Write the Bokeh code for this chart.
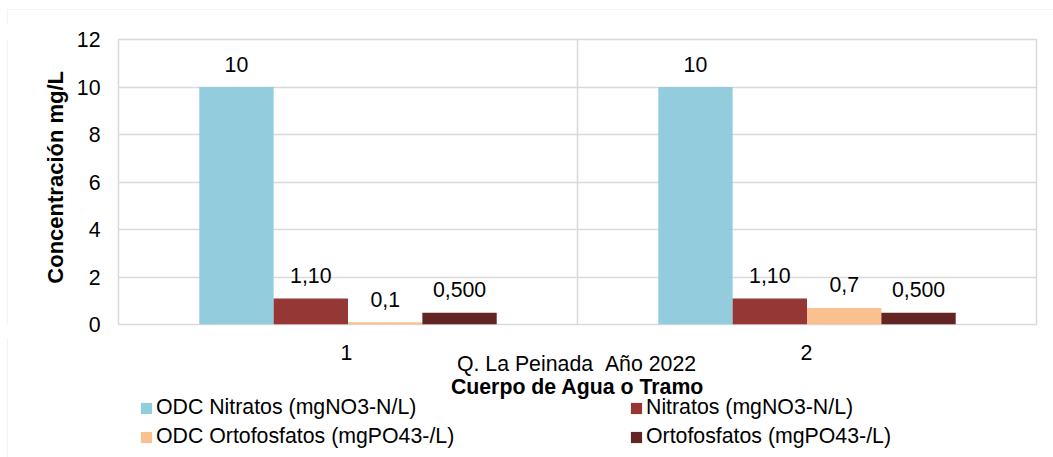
import math
from bokeh.plotting import figure
from bokeh.models import (FactorRange, Range1d, Span, Label, Legend, LegendItem,
                          BoxAnnotation, ColumnDataSource, FixedTicker)
from bokeh.layouts import column, row
from bokeh.transform import dodge
from bokeh.core.properties import value
from bokeh.embed import file_html
from bokeh.resources import INLINE

# ---- data ----
categories = ["1", "2"]
odc_nitratos = [10, 10]
nitratos = [1.10, 1.10]
odc_ortofosfatos = [0.1, 0.7]
ortofosfatos = [0.5, 0.5]
lbl_odc_nitratos = ["10", "10"]
lbl_nitratos = ["1,10", "1,10"]
lbl_odc_ortofosfatos = ["0,1", "0,7"]
lbl_ortofosfatos = ["0,500", "0,500"]
series_names = ["ODC Nitratos (mgNO3-N/L)", "Nitratos (mgNO3-N/L)",
                "ODC Ortofosfatos (mgPO43-/L)", "Ortofosfatos (mgPO43-/L)"]
y_ticks = [0, 2, 4, 6, 8, 10, 12]
x_title_1 = "Q. La Peinada \u00a0Año 2022"
x_title_2 = "Cuerpo de Agua o Tramo"
y_title = "Concentración mg/L"

colors = ["#93CDDD", "#953735", "#FAC090", "#632523"]
FONT = "Liberation Sans"
FS = "21.3px"
GRID = "#D9D9D9"

W = 1053
TOP_H, MID_H, BOT_H = 24, 314, 119
YLAB_W = 73
LEFT_W = 116


def blank(width, height, x_range=None, y_range=None, right=0):
    f = figure(width=width, height=height, output_backend="svg", toolbar_location=None,
               x_range=x_range if x_range is not None else Range1d(0, 1),
               y_range=y_range if y_range is not None else Range1d(0, 1),
               x_axis_location=None, y_axis_location=None,
               min_border=0, min_border_left=0, min_border_right=right,
               min_border_top=0, min_border_bottom=0)
    f.outline_line_color = None
    f.xgrid.visible = False
    f.ygrid.visible = False
    f.background_fill_color = "white"
    f.border_fill_color = "white"
    return f


def chart_border(f, top=None):
    # outer light-grey chart border (left edge and optional top edge)
    f.add_layout(BoxAnnotation(left=7, right=W + 20, top=(top if top is not None else 2000),
                               bottom=-2000, left_units="screen", right_units="screen",
                               top_units="screen", bottom_units="screen",
                               fill_alpha=0, line_color=GRID, line_width=1.2))


# ---- top strip ----
p_top = blank(W, TOP_H)
chart_border(p_top, top=TOP_H - 9)

# ---- y title strip (pixel coordinates, text anchored at its start) ----
p_ylab = blank(YLAB_W, MID_H, x_range=Range1d(0, YLAB_W), y_range=Range1d(0, MID_H))
chart_border(p_ylab)
p_ylab.text(x=[55], y=[MID_H - (293 - TOP_H)], text=[y_title], angle=math.pi / 2,
            text_align="left", text_baseline="middle",
            text_font=value(FONT), text_font_size="22px", text_font_style="bold",
            text_color="black")

# ---- main chart ----
src = ColumnDataSource(dict(
    cat=categories,
    v0=odc_nitratos, v1=nitratos, v2=odc_ortofosfatos, v3=ortofosfatos,
    l0=lbl_odc_nitratos, l1=lbl_nitratos, l2=lbl_odc_ortofosfatos, l3=lbl_ortofosfatos,
))

xr = FactorRange(factors=categories, range_padding=0)
p = figure(width=W - YLAB_W, height=MID_H, output_backend="svg", toolbar_location=None,
           x_range=xr, y_range=(0, 12), x_axis_location=None,
           min_border_left=LEFT_W - YLAB_W, min_border_right=17,
           min_border_top=15, min_border_bottom=14)
p.background_fill_color = "white"
p.border_fill_color = "white"
p.outline_line_color = GRID
p.outline_line_width = 1.5

bw = 0.162
offsets = [-1.5 * bw, -0.5 * bw, 0.5 * bw, 1.5 * bw]
for i in range(4):
    p.vbar(x=dodge("cat", offsets[i], range=xr), top=f"v{i}", width=bw,
           bottom=0, source=src, fill_color=colors[i], line_color=None)
    p.text(x=dodge("cat", offsets[i], range=xr), y=f"v{i}", text=f"l{i}", source=src,
           text_align="center", text_baseline="middle", y_offset=-23,
           text_font=value(FONT), text_font_size=FS, text_color="black")

p.xgrid.grid_line_color = None
p.ygrid.grid_line_color = GRID
p.ygrid.grid_line_width = 1.5
p.yaxis.ticker = FixedTicker(ticks=y_ticks)
ax = p.yaxis[0]
ax.axis_line_color = None
ax.major_tick_line_color = None
ax.minor_tick_line_color = None
ax.major_tick_in = 0
ax.major_tick_out = 0
ax.minor_tick_out = 0
ax.major_label_text_font = FONT
ax.major_label_text_font_size = FS
ax.major_label_text_color = "black"
ax.major_label_standoff = 18

# category separator
p.add_layout(Span(location=1.0, dimension="height", line_color=GRID, line_width=1.5))

# ---- bottom strip: category labels, axis title, legend ----
p_bl = blank(LEFT_W, BOT_H)
chart_border(p_bl)

p_bot = blank(W - LEFT_W, BOT_H, x_range=xr, y_range=Range1d(BOT_H, 0), right=17)
p_bot.text(x=categories, y=[14] * len(categories), text=categories,
           text_align="center", text_baseline="middle",
           text_font=value(FONT), text_font_size=FS, text_color="black")
p_bot.add_layout(Label(x=460, y=94, x_units="screen", y_units="screen", text=x_title_1,
                       text_align="center", text_baseline="middle",
                       text_font=FONT, text_font_size=FS, text_color="black"))
p_bot.add_layout(Label(x=461, y=71, x_units="screen", y_units="screen", text=x_title_2,
                       text_align="center", text_baseline="middle", text_font_style="bold",
                       text_font=FONT, text_font_size=FS, text_color="black"))

# legend proxies (zero-height, never visible) so that the legend swatches are drawn
swatch_src = ColumnDataSource(dict(x=[categories[0]], top=[0], bottom=[0]))
legend_pos = [(23, 37), (513, 37), (23, 8), (513, 8)]
for i in range(4):
    r = p_bot.vbar(x="x", top="top", bottom="bottom", width=0.01, source=swatch_src,
                   fill_color=colors[i], line_color=None)
    lg = Legend(items=[LegendItem(label=series_names[i], renderers=[r])],
                location=legend_pos[i], glyph_width=14, glyph_height=14,
                label_standoff=3, padding=0, margin=0, spacing=0,
                border_line_color=None, background_fill_alpha=0,
                label_text_font=FONT, label_text_font_size=FS, label_text_color="black")
    p_bot.add_layout(lg, "center")

layout = column(p_top, row(p_ylab, p), row(p_bl, p_bot))
open("out.html", "w").write(file_html(layout, INLINE))
